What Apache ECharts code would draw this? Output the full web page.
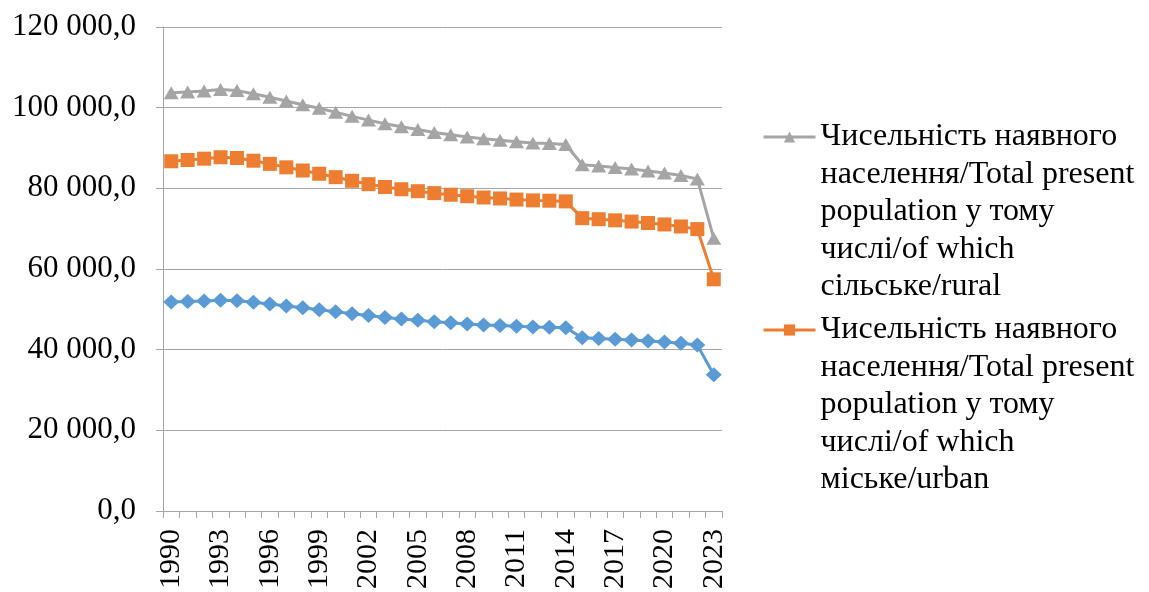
<!DOCTYPE html>
<html>
<head>
<meta charset="utf-8">
<script src="https://cdn.jsdelivr.net/npm/echarts@6/dist/echarts.min.js"></script>
<style>
  html, body { margin: 0; padding: 0; background: #ffffff; }
  #chart { width: 1149px; height: 592px; }
</style>
</head>
<body>
<div id="chart"></div>
<script>
// Present population of Ukraine, thousand persons (as of 1 January)
const years = ['1990','1991','1992','1993','1994','1995','1996','1997','1998','1999',
  '2000','2001','2002','2003','2004','2005','2006','2007','2008','2009',
  '2010','2011','2012','2013','2014','2015','2016','2017','2018','2019',
  '2020','2021','2022','2023'];

const totalPop = [51838.5, 51944.4, 52056.6, 52244.1, 52114.4, 51728.4, 51297.1, 50818.4, 50370.8, 49918.1,
  49429.8, 48923.2, 48457.1, 48003.5, 47622.4, 47280.8, 46929.5, 46646.0, 46372.7, 46143.7,
  45962.9, 45778.5, 45633.6, 45553.0, 45426.2, 42929.3, 42760.5, 42584.5, 42386.4, 42153.2,
  41902.4, 41588.4, 41167.3, 33800.0];

const urbanPop = [34869.2, 35085.2, 35296.9, 35471.0, 35400.7, 35118.8, 34767.9, 34387.5, 34048.2, 33702.1,
  33338.6, 32951.7, 32574.4, 32328.4, 32146.4, 32009.3, 31877.7, 31777.4, 31668.8, 31587.2,
  31524.8, 31441.6, 31380.9, 31378.6, 31336.6, 29673.1, 29585.0, 29482.3, 29371.0, 29256.7,
  29139.2, 28960.9, 28717.9, 23650.0];

const ruralPop = [16969.3, 16859.2, 16759.7, 16773.1, 16713.7, 16609.6, 16529.2, 16430.9, 16322.6, 16216.0,
  16091.2, 15971.5, 15882.7, 15675.1, 15476.0, 15271.5, 15051.8, 14868.6, 14703.9, 14556.5,
  14438.1, 14336.9, 14252.7, 14174.4, 14089.6, 13256.2, 13175.5, 13102.2, 13015.4, 12896.5,
  12763.2, 12627.5, 12449.4, 10150.0];

const nameTotal = 'Чисельність наявного населення/Total present population';
const nameRural = 'Чисельність наявного населення/Total present population у тому числі/of which сільське/rural';
const nameUrban = 'Чисельність наявного населення/Total present population у тому числі/of which міське/urban';

// Legend wording broken onto lines; the leading blank lines put the
// first line of each entry level with its line-and-marker icon.
const legendLines = {
  [nameRural]: '\n\n\n\nЧисельність наявного\nнаселення/Total present\npopulation у тому\nчислі/of which\nсільське/rural',
  [nameUrban]: '\n\n\n\nЧисельність наявного\nнаселення/Total present\npopulation у тому\nчислі/of which\nміське/urban'
};

const FONT = "'Liberation Serif', 'Times New Roman', serif";
const GRID_COLOR = '#A6A6A6';
const LINE_H = 37.5;

function fmtValue(v) {
  const s = Math.round(v).toString().replace(/\B(?=(\d{3})+(?!\d))/g, ' ');
  return s + ',0';
}

const chart = echarts.init(document.getElementById('chart'), null, { renderer: 'canvas' });

chart.setOption({
  animation: false,
  backgroundColor: '#ffffff',
  grid: { left: 163, right: 427, top: 27, bottom: 81, containLabel: false },
  legend: {
    orient: 'vertical',
    left: 762,
    top: 137 - 4.5 * LINE_H,
    padding: 0,
    itemGap: 193 - 9 * LINE_H,
    itemWidth: 52,
    itemHeight: 14,
    selectedMode: false,
    lineStyle: { width: 3 },
    data: [nameRural, nameUrban],
    formatter: n => legendLines[n] || n,
    textStyle: {
      fontFamily: FONT,
      fontSize: 32,
      color: '#000000',
      lineHeight: LINE_H
    }
  },
  xAxis: {
    type: 'category',
    data: years,
    boundaryGap: true,
    axisLine: { show: true, lineStyle: { color: GRID_COLOR, width: 1 } },
    axisTick: { show: true, interval: 0, length: 7, lineStyle: { color: GRID_COLOR } },
    axisLabel: {
      interval: 2,
      rotate: 90,
      margin: 18,
      fontFamily: FONT,
      fontSize: 30,
      color: '#000000'
    },
    splitLine: { show: false }
  },
  yAxis: {
    type: 'value',
    min: 0,
    max: 120000,
    interval: 20000,
    axisLine: { show: true, lineStyle: { color: GRID_COLOR, width: 1 } },
    axisTick: { show: true, length: 7, lineStyle: { color: GRID_COLOR } },
    axisLabel: {
      margin: 27,
      fontFamily: FONT,
      fontSize: 31,
      color: '#000000',
      formatter: fmtValue
    },
    splitLine: { show: true, lineStyle: { color: GRID_COLOR, width: 1 } }
  },
  series: [
    {
      name: nameTotal,
      type: 'line',
      stack: 'population',
      data: totalPop,
      showAllSymbol: true,
      symbol: 'diamond',
      symbolSize: [16, 15],
      itemStyle: { color: '#5B9BD5' },
      lineStyle: { color: '#5B9BD5', width: 3 },
      z: 3
    },
    {
      name: nameUrban,
      type: 'line',
      stack: 'population',
      data: urbanPop,
      showAllSymbol: true,
      symbol: 'rect',
      symbolSize: 14,
      itemStyle: { color: '#ED7D31' },
      lineStyle: { color: '#ED7D31', width: 3 },
      z: 3
    },
    {
      name: nameRural,
      type: 'line',
      stack: 'population',
      data: ruralPop,
      showAllSymbol: true,
      symbol: 'triangle',
      symbolSize: [15, 13],
      itemStyle: { color: '#A5A5A5' },
      lineStyle: { color: '#A5A5A5', width: 3 },
      z: 3
    }
  ]
});
</script>
</body>
</html>
